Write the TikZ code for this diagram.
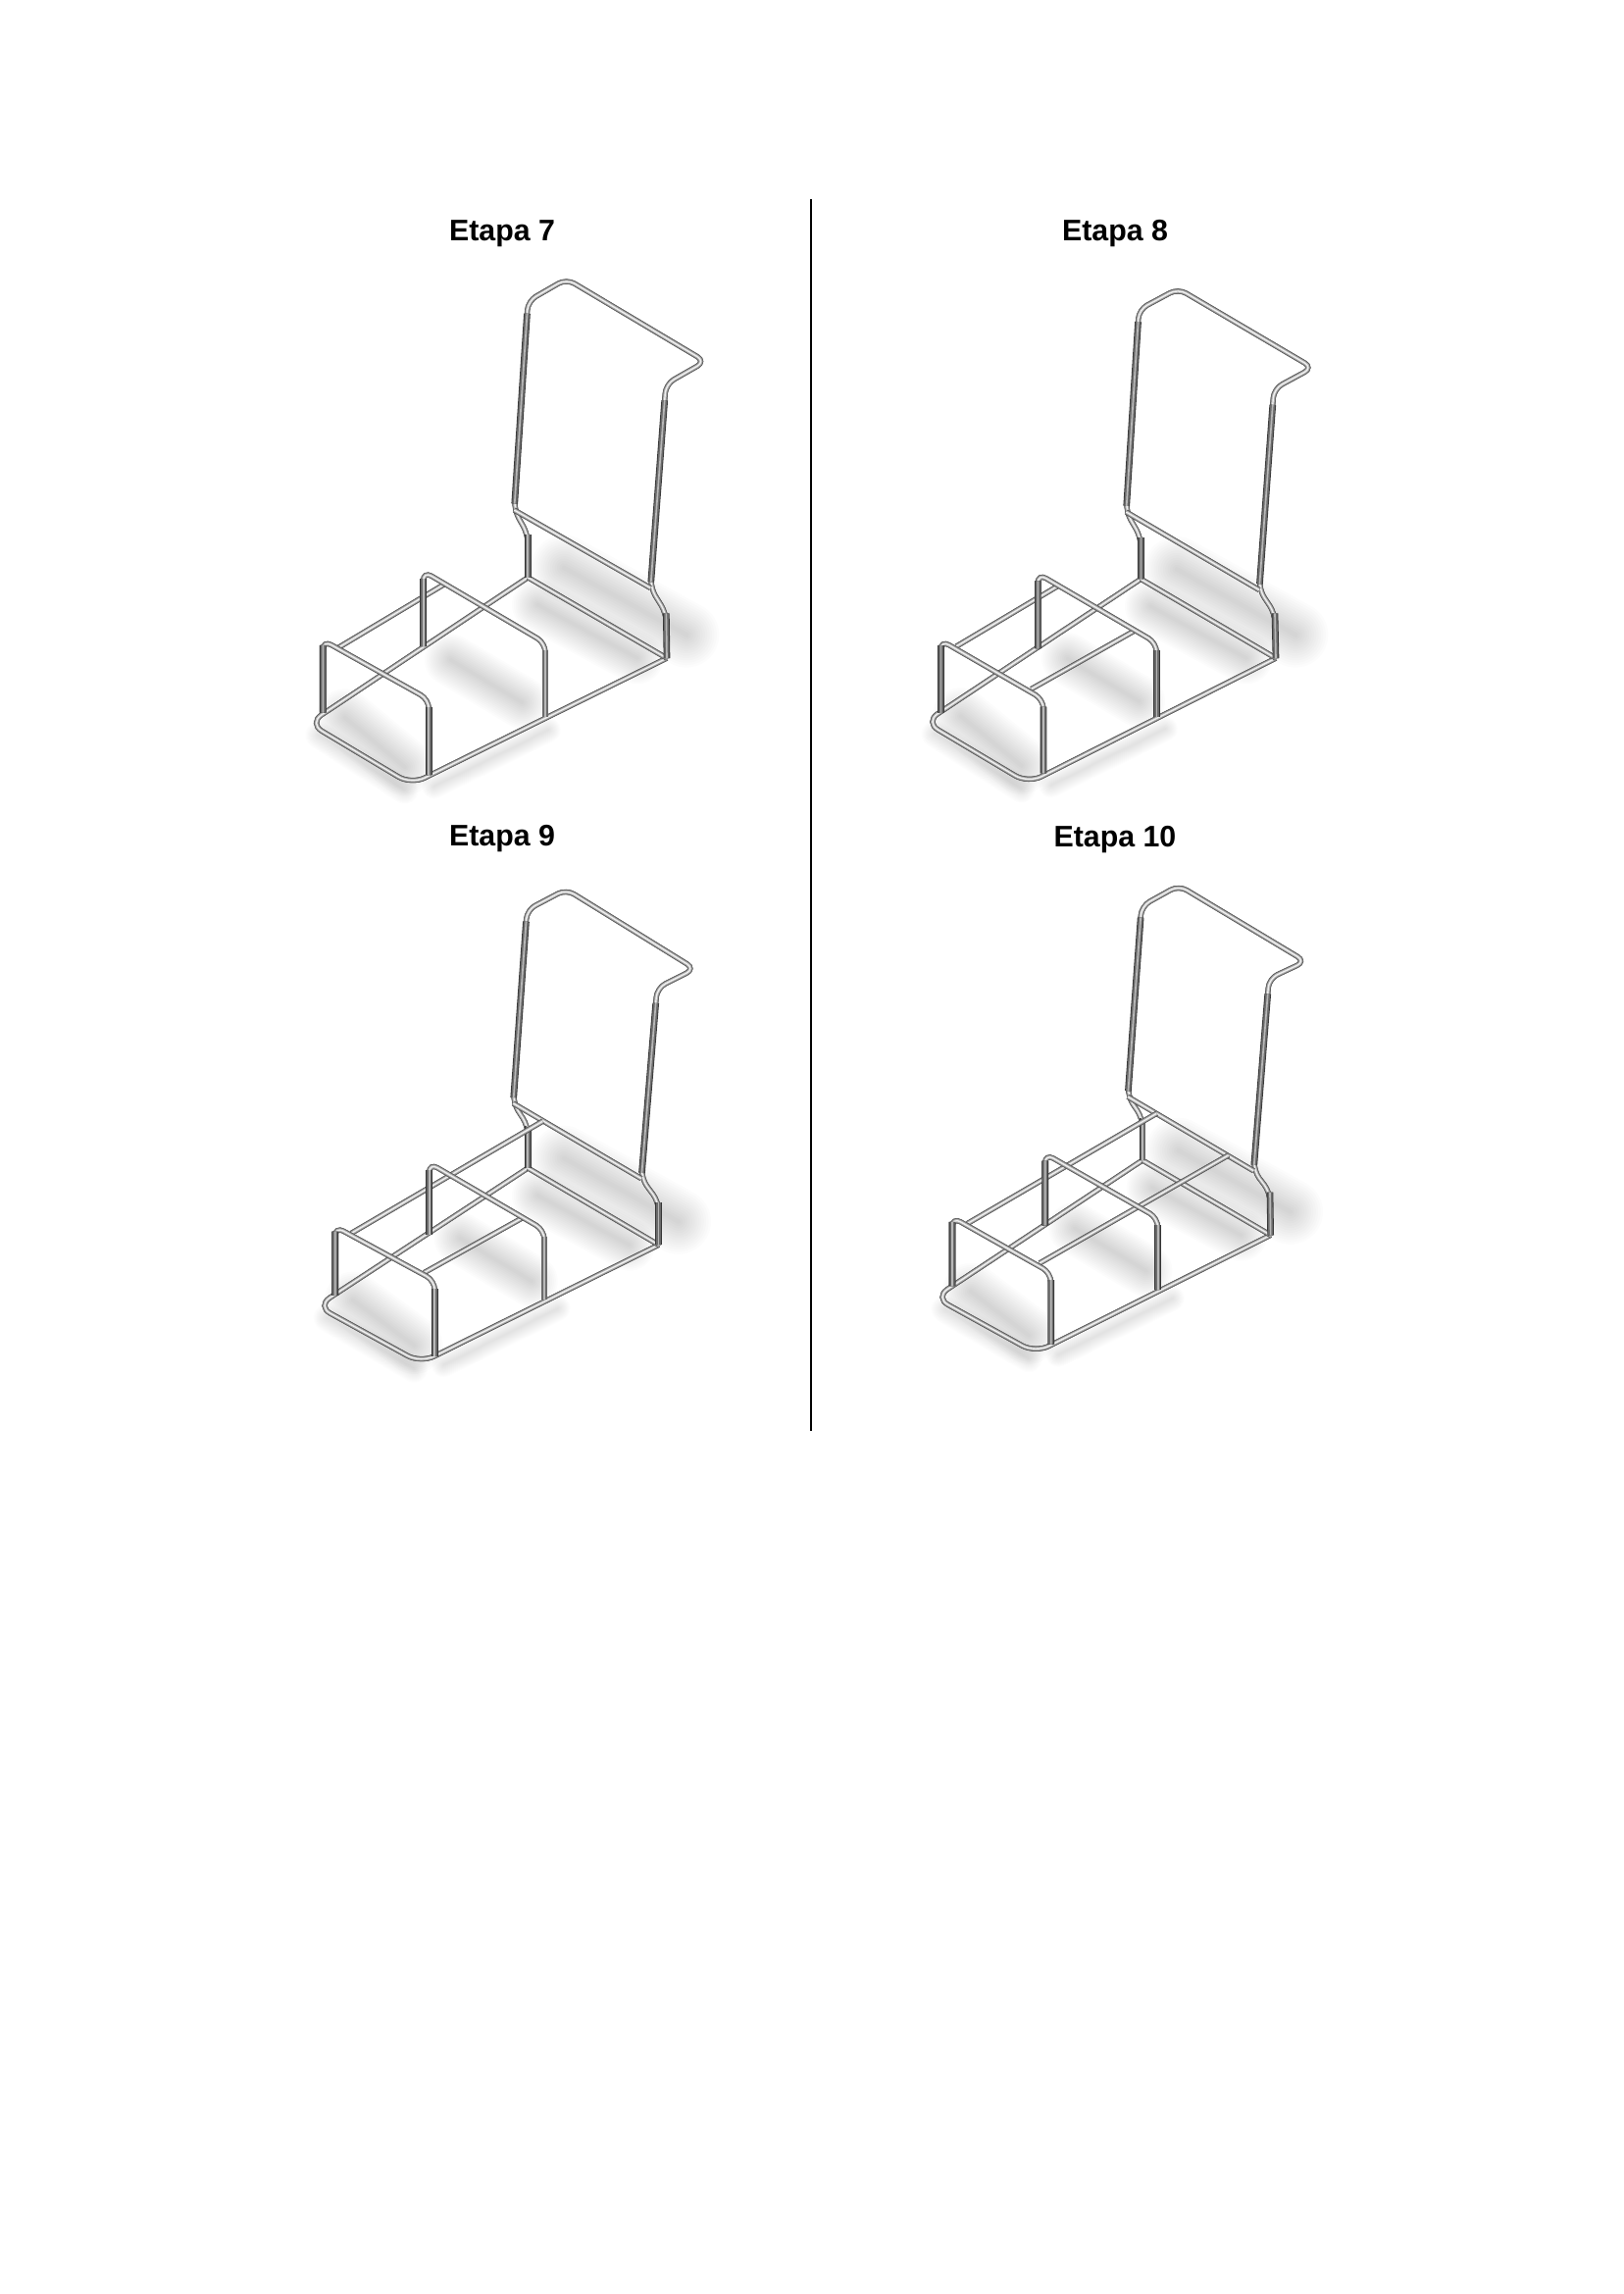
\documentclass[tikz,border=0pt]{standalone}
\usepackage{fontspec}
\setmainfont{Liberation Sans}
\usetikzlibrary{calc}

\tikzset{
    etapa/.style={anchor=base, font=\fontsize{10.9}{12}\selectfont\bfseries},
    tuboborda/.style={line width=1.8pt, color=black, xshift=.8pt, yshift=-.8pt, rounded corners=3.4pt},
    tubofundo/.style={line width=1.9pt, color=black!62, rounded corners=3.4pt},
    tubocorpo/.style={line width=1.25pt, color=black!32, rounded corners=3.4pt},
    tubobrilho/.style={line width=.5pt, color=black!6, rounded corners=3.4pt},
    posteborda/.style={line width=2.4pt, color=black!80},
    postecorpo/.style={line width=1.8pt, color=black!58},
    postebrilho/.style={line width=.6pt, color=black!28}
}

% tube with dark edge and light line on top
\newcommand{\tubo}[1]{
    \draw[tuboborda] #1;
    \draw[tubofundo] #1;
    \draw[tubocorpo] #1;
    \draw[tubobrilho] #1;
}
\newcommand{\poste}[1]{
    \draw[posteborda] #1;
    \draw[postecorpo] #1;
    \draw[postebrilho] #1;
}
% soft floor shadow between two offset points
\newcommand{\sombra}[6]{
    \path #1 ++(#2) coordinate (sa);
    \path #3 ++(#4) coordinate (sb);
    \foreach \g in {1,...,14} {
        \draw[line width=\g*#5*0.0714pt, black, opacity=#6, line cap=round] (sa) -- (sb);
    }
}

% one whole frame, #1 = the cross bars of that stage
\newcommand{\estrutura}[1]{
    % Shadows
    \sombra{(B)}{110,-25}{(R)}{60,-60}{24}{0.011}
    \sombra{(B)}{30,70}{(R)}{-90,0}{19}{0.012}
    \sombra{(F)}{120,-320}{(F)}{340,-210}{19}{0.012}
    \sombra{(L)}{110,-15}{(F)}{-20,-45}{21}{0.012}
    \sombra{(L)}{30,30}{(F)}{-20,15}{10}{0.008}
    \sombra{(F)}{70,5}{(F)}{420,-140}{9}{0.006}

    % Base rails
    \tubo{[rounded corners=5.5pt] (B) -- (L) -- (F) -- (R)}
    \tubo{(R) -- (B)}

    % Tall frame
    \tubo{(B) -- (C1) -- (C2) -- (T1) -- (T2) -- (T3) -- (T4) -- (D2) -- (D1) -- (R)}
    \tubo{(C2) -- (D2)}
    \poste{(B) -- (C1)}
    \poste{($(C2)!.03!(T1)$) -- ($(C2)!.94!(T1)$)}
    \poste{(R) -- (D1)}
    \poste{($(D2)!.03!(T4)$) -- ($(D2)!.92!(T4)$)}

    % Low frames
    \poste{(P1) -- ($(P1)!.9!(K1)$)}
    \poste{(Q1) -- ($(Q1)!.93!(J1)$)}
    #1
    \tubo{(P1) -- (K1) -- (K2) -- (P2)}
    \tubo{(Q1) -- (J1) -- (J2) -- (Q2)}
    \poste{(P1) -- ($(P1)!.9!(K1)$)}
    \poste{(Q1) -- ($(Q1)!.93!(J1)$)}
    \poste{(P2) -- ($(P2)!.9!(K2)$)}
    \poste{(Q2) -- ($(Q2)!.9!(J2)$)}
}

\begin{document}
\begin{tikzpicture}[x=.3594pt, y=-.3594pt]
    \useasboundingbox (0,0) rectangle (1656,2339);
    \fill[white] (0,0) rectangle (1656,2339);

    % Titles
    \node[etapa] (etapa7) at (512,245.5) {Etapa 7};
    \node[etapa] (etapa8) at (1137,245.5) {Etapa 8};
    \node[etapa] (etapa9) at (512,862) {Etapa 9};
    \node[etapa] (etapa10) at (1137,863.5) {Etapa 10};

    % Divider
    \coordinate (topo) at (827,203);
    \coordinate (fundo) at (827,1459);
    \draw[line width=1.05pt] (topo) -- (fundo);

    % Etapa 7
    \begin{scope}[shift={(280,200)}, xscale=1/3, yscale=.3975]
        \foreach \n/\x/\y in {B/775/978, C1/775/868, C2/733/805, T1/775/269, T2/893/212,
            T3/1318/424, T4/1197/482, D2/1150/1005, D1/1198/1070, R/1200/1185,
            L/105/1352, F/418/1509, P1/455/1155, K1/455/962, K2/828/1146, P2/828/1335,
            Q1/148/1325, J1/148/1139, J2/472/1291, Q2/472/1485, A1/195/1158, A2/520/995} {
            \coordinate (\n) at (\x,\y);
        }
        \estrutura{\tubo{(A1) -- (A2)}}
    \end{scope}

    % Etapa 8
    \begin{scope}[shift={(920,200)}, xscale=1/3, yscale=.3975]
        \foreach \n/\x/\y in {B/730/982, C1/730/875, C2/685/810, T1/724/291, T2/844/237,
            T3/1256/440, T4/1137/494, D2/1092/1010, D1/1140/1070, R/1143/1185,
            L/70/1349, F/385/1506, P1/415/1160, K1/415/968, K2/778/1146, P2/778/1335,
            Q1/118/1325, J1/118/1139, J2/432/1291, Q2/432/1480, A1/165/1155, A2/480/998,
            E1/395/1264, E2/710/1115} {
            \coordinate (\n) at (\x,\y);
        }
        \estrutura{\tubo{(A1) -- (A2)} \tubo{(E1) -- (E2)}}
    \end{scope}

    % Etapa 9
    \begin{scope}[shift={(300,830)}, xscale=1/3, yscale=.3975]
        \foreach \n/\x/\y in {B/715/908, C1/715/800, C2/670/742, T1/712/246, T2/832/193,
            T3/1226/397, T4/1110/446, D2/1062/935, D1/1115/995, R/1115/1105,
            L/70/1262, F/387/1408, P1/413/1078, K1/413/895, K2/765/1067, P2/765/1245,
            Q1/125/1235, J1/125/1058, J2/430/1197, Q2/430/1390, A1/175/1075, A2/760/788,
            E1/398/1176, E2/700/1035} {
            \coordinate (\n) at (\x,\y);
        }
        \estrutura{\tubo{(A1) -- (A2)} \tubo{(E1) -- (E2)}}
    \end{scope}

    % Etapa 10
    \begin{scope}[shift={(930,830)}, xscale=1/3, yscale=.3975]
        \foreach \n/\x/\y in {B/705/888, C1/705/780, C2/660/725, T1/702/236, T2/816/183,
            T3/1204/378, T4/1092/422, D2/1045/915, D1/1095/970, R/1097/1080,
            L/70/1240, F/377/1382, P1/407/1055, K1/407/871, K2/752/1036, P2/752/1220,
            Q1/123/1210, J1/123/1034, J2/425/1177, Q2/425/1360, A1/170/1050, A2/748/768,
            E1/390/1152, E2/968/875} {
            \coordinate (\n) at (\x,\y);
        }
        \estrutura{\tubo{(A1) -- (A2)} \tubo{(E1) -- (E2)}}
    \end{scope}
\end{tikzpicture}
\end{document}
